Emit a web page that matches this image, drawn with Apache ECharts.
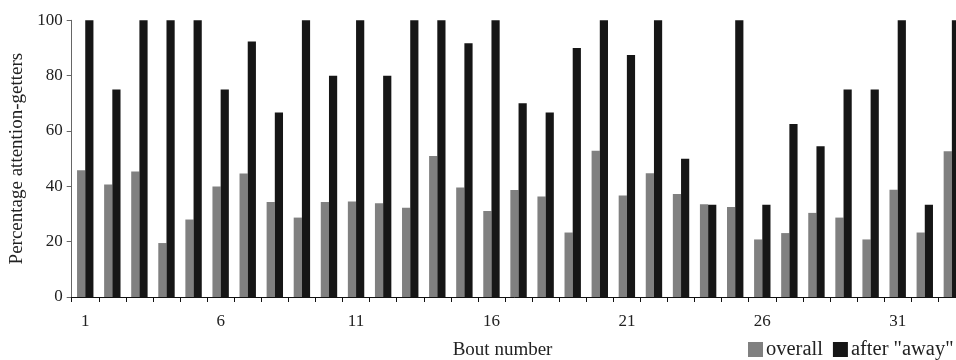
<!DOCTYPE html>
<html>
<head>
<meta charset="utf-8">
<script src="https://cdn.jsdelivr.net/npm/echarts@6/dist/echarts.min.js"></script>
<style>
html,body{margin:0;padding:0;background:#fff;}
#chart{width:956px;height:360px;}
</style>
</head>
<body>
<div id="chart"></div>
<script>
const bouts = [1,2,3,4,5,6,7,8,9,10,11,12,13,14,15,16,17,18,19,20,21,22,23,24,25,26,27,28,29,30,31,32,33];
const overall = [45.8,40.7,45.4,19.5,28.0,39.9,44.6,34.3,28.7,34.3,34.5,33.9,32.3,51.0,39.6,31.1,38.7,36.3,23.3,52.9,36.7,44.7,37.2,33.5,32.5,20.8,23.1,30.4,28.7,20.8,38.8,23.3,52.7];
const afterAway = [100,75,100,100,100,75,92.3,66.7,100,80,100,80,100,100,91.7,100,70,66.7,90,100,87.5,100,50,33.3,100,33.3,62.5,54.5,75,75,100,33.3,100];
const yTicks = [0,20,40,60,80,100];

const font = 'Liberation Serif';
const chart = echarts.init(document.getElementById('chart'), null, {renderer:'canvas'});
chart.setOption({
  animation:false,
  backgroundColor:'#fff',
  grid:{left:71.7, top:20.3, width:893.7, height:276.7, containLabel:false, outerBoundsMode:'none'},
  legend:{
    left:748, top:339, orient:'horizontal', padding:0,
    itemWidth:15, itemHeight:15, itemGap:10,
    icon:'rect',
    textStyle:{fontFamily:font, fontSize:20.5, color:'#222', padding:[0,0,0,-2]},
    data:['overall','after "away"']
  },
  xAxis:{
    type:'category',
    data:bouts.map(String),
    boundaryGap:true,
    name:'Bout number',
    nameLocation:'middle',
    nameGap:44,
    nameTextStyle:{fontFamily:font, fontSize:19, color:'#222', padding:[0,32,0,0]},
    axisLine:{lineStyle:{color:'#111', width:1}},
    axisTick:{show:true, interval:0, length:5, inside:false, lineStyle:{color:'#111'}},
    axisLabel:{interval:4, margin:16, fontFamily:font, fontSize:17, color:'#222'}
  },
  yAxis:{
    type:'value',
    min:0, max:100, interval:20,
    name:'Percentage attention-getters',
    nameLocation:'middle',
    nameGap:43,
    nameTextStyle:{fontFamily:font, fontSize:19, color:'#222'},
    axisLine:{show:true, lineStyle:{color:'#666', width:1}},
    axisTick:{show:true, length:5, lineStyle:{color:'#666'}},
    splitLine:{show:false},
    axisLabel:{margin:9, fontFamily:font, fontSize:17, color:'#222',
      formatter:function(v){return yTicks.indexOf(v)>=0?String(v):'';}}
  },
  series:[
    {name:'overall', type:'bar', data:overall, barWidth:8.2, barGap:'0%', itemStyle:{color:'#808080'}},
    {name:'after "away"', type:'bar', data:afterAway, barWidth:8.2, barGap:'0%', itemStyle:{color:'#161616'}}
  ]
});
</script>
</body>
</html>
